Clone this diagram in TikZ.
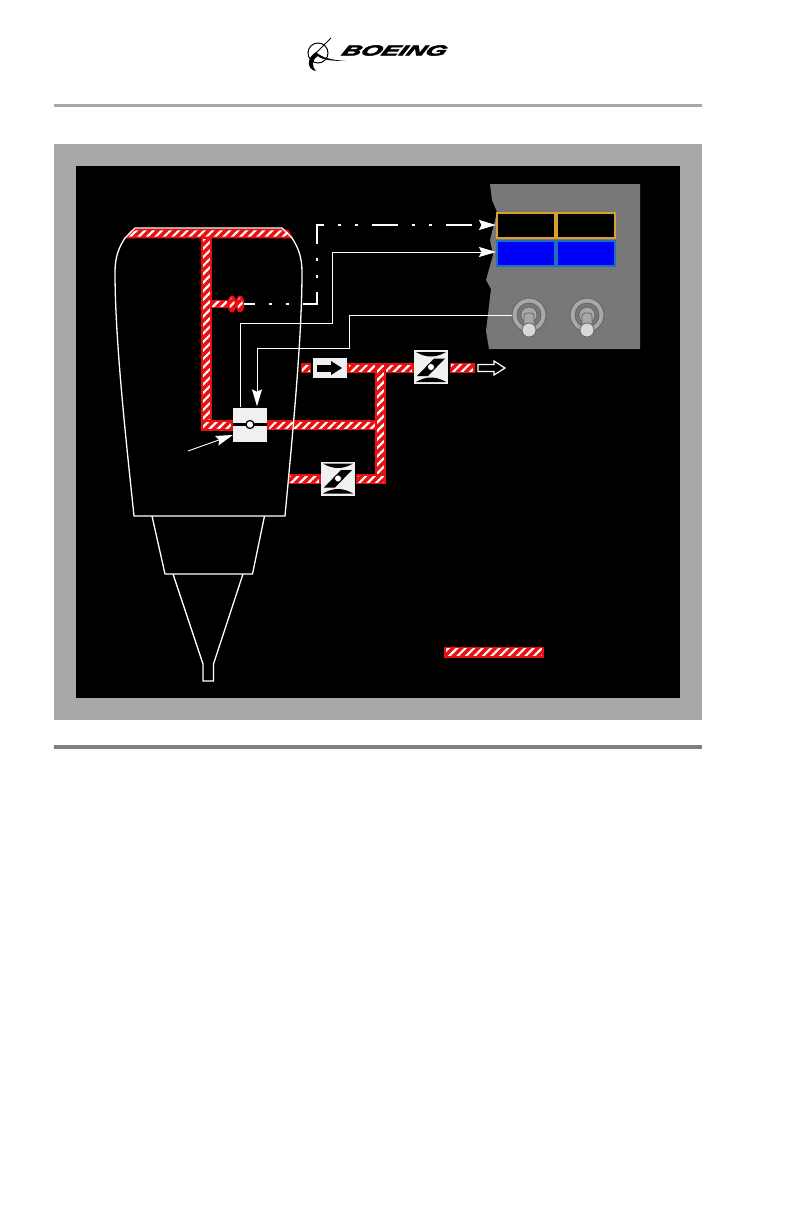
\documentclass[tikz,border=0pt]{standalone}
\usepackage{fontspec}
\setmainfont{Liberation Sans}
\newfontfamily\logofont[BoldItalicFeatures={FakeBold=3.5}]{Liberation Sans}
\usepackage{tikz}
\usetikzlibrary{arrows.meta,positioning,calc,patterns.meta}
\definecolor{framegray}{HTML}{A8A8A8}
\definecolor{panelgray}{HTML}{787878}
\definecolor{lampamber}{HTML}{D9A030}
\definecolor{lampblue}{HTML}{2070C0}
\definecolor{boxwhite}{HTML}{F0F0F0}
\definecolor{ductred}{HTML}{E81010}

\begin{document}
\begin{tikzpicture}[
  x=1pt, y=-1pt,
  duct/.style={draw=ductred, line width=1.7pt,
    preaction={fill=ductred},
    preaction={pattern={Lines[angle=45,distance=6pt,line width=2.2pt]}, pattern color=white}},
  outline/.style={draw=white, line width=1.3pt, line join=miter},
  signal/.style={draw=white, line width=.9pt},
  arrow/.style={-{Stealth[length=17pt,width=10pt,inset=2.5pt]}},
  unitbox/.style={fill=boxwhite, inner sep=0pt, minimum width=34pt, minimum height=34pt},
  lamp/.style={inner sep=0pt, minimum width=58pt, minimum height=25pt, line width=2pt},
  fanblade/.pic={
    \fill[black] (-15,-15) .. controls (-5,-9) and (5,-9) .. (15,-15) -- cycle;
    \fill[black] (-15,15) .. controls (-5,9) and (5,9) .. (15,15) -- cycle;
    \fill[black] (14,-8.5) -- (3,-8.5) -- (-14,9) -- (-3,9) -- cycle;
    \draw[black, fill=white, line width=.6pt] (0,0) circle (3.5pt);
  },
  toggle/.pic={
    \draw[black!60, fill=framegray, line width=1pt] (0,-1) circle (17pt);
    \draw[black!60, fill=panelgray, line width=.8pt] (0,-1) circle (12pt);
    \draw[black!60, fill=framegray, line width=.8pt] (0,-1) circle (8pt);
    \draw[black!60, fill=framegray, line width=.8pt, rounded corners=3pt] (-5,12) -- (-5,-3) -- (5,-3) -- (5,12);
    \draw[black!60, fill=boxwhite!90!black, line width=.8pt] (0,14) circle (7pt);
  }
]
\useasboundingbox (0,0) rectangle (792,1224);
\fill[white] (0,0) rectangle (792,1224);

% logo
\draw[black, line width=1pt] (318,53) circle (10pt);
\draw[black, line width=.8pt] (331,38) -- (316,53);
\fill[black] (316,52) .. controls (306,58) and (307,70) .. (316,71) .. controls (312,67) and (311,60) .. (318,56) .. controls (322,60) and (332,61) .. (346,61) .. controls (332,60) and (322,58) .. (316,52);
\node[font=\logofont\bfseries\itshape, scale=1.45, xscale=1.82, xslant=.25, inner sep=0pt] (logotext) at (395,50.5) {BOEING};

% frame
\draw[framegray, line width=3pt] (54,105) -- (702,105);
\fill[framegray] (54,144) rectangle (702,720);
\fill[black] (76,166) rectangle (680,698);
\draw[black!50, line width=3.5pt] (54,747) -- (702,747);

% panel
\fill[panelgray] (490,184) -- (640,184) -- (640,349) -- (489,349) -- (486,331) -- (491,289) -- (486,280) -- (493,255) -- (490,240) -- (497,212) -- (492,200) -- cycle;
\node[lamp, draw=lampamber, fill=black, anchor=south east] (lampA) at (556,239) {};
\node[lamp, draw=lampamber, fill=black, anchor=south west] (lampB) at (556,239) {};
\node[lamp, draw=lampblue, fill=blue, anchor=north east] (lampC) at (556,240) {};
\node[lamp, draw=lampblue, fill=blue, anchor=north west] (lampD) at (556,240) {};
\pic at (529,316) {toggle};
\pic at (587,316) {toggle};
\coordinate (switchA) at (512,315);

% ducts
\path[duct] (127,237.5) -- (131,231) -- (136,229.5) -- (282,229.5) -- (288,231) -- (292,237.5) -- cycle;
\path[duct] (202,238) rectangle (211,430);
\path[duct] (202,421) rectangle (232,430);
\path[duct] (211,300.5) rectangle (228,307.5);
\path[duct] (232,304) ellipse [x radius=3.5pt, y radius=7.5pt];
\path[duct] (240,304) ellipse [x radius=3.5pt, y radius=7.5pt];
\path[duct] (268,421) rectangle (385.5,429.5);
\path[duct] (301.5,364) rectangle (310.5,372.5);
\path[duct] (348,364) rectangle (413,372.5);
\path[duct] (376,364) rectangle (385,483.5);
\path[duct] (289,475) rectangle (320,483.5);
\path[duct] (357,475) rectangle (385,483.5);
\path[duct] (450.5,363.5) rectangle (474,372.5);
\path[duct] (445,647.5) rectangle (543,657);

% engine
\draw[outline] (125,238) -- (135,228) -- (282,228) -- (292,238) .. controls (298,247) and (302,257) .. (302,272) .. controls (302,340) and (292,440) .. (285,516) -- (134,516) .. controls (126,440) and (115,340) .. (115,272) .. controls (115,257) and (119,247) .. (125,238);
\draw[outline] (152,516) -- (165,574) -- (252.5,574) -- (264.5,516);
\draw[outline] (173,574) -- (203,664) -- (203,681) -- (213.5,681) -- (213.5,664) -- (243,574);

% units
\node[unitbox] (valve) at (250,424.5) {};
\draw[black, line width=2.6pt] (valve.west) -- (valve.east);
\draw[black, fill=white, line width=1.3pt] (valve.center) circle (4pt);
\node[unitbox, minimum height=20pt] (check) at (330,368) {};
\draw[black, line width=7pt] (317,368) -- (332,368);
\fill[black] (331,361) -- (342,368) -- (331,375) -- cycle;
\node[unitbox] (fanA) at (431,367) {};
\pic at (fanA) {fanblade};
\node[unitbox] (fanB) at (338,478.5) {};
\pic at (fanB) {fanblade};
\coordinate (vent) at (478,368);
\draw[white, line width=1.2pt, fill=black] (vent) ++(0,-3.5) -- ++(16,0) -- ++(0,-3.5) -- ++(11,7) -- ++(-11,7) -- ++(0,-3.5) -- ++(-16,0) -- cycle;

% connectors
\coordinate (pointer) at (188,451);
\draw[signal, arrow] (pointer) -- (valve.west |- 0,435);
\draw[signal, line width=1.8pt, arrow, dash pattern=on 26pt off 14pt on 3pt off 14pt on 3pt off 14pt, dash phase=15pt] (244,304) -- (317,304) -- (317,225) -- (lampA.west |- 0,225);
\draw[signal, arrow] ($(valve.north)+(-10,0)$) |- (332,323) |- (lampC.west |- 0,252);
\draw[signal, arrow] (switchA) -| (349,348) -| ($(valve.north)+(7,-1)$);
\end{tikzpicture}
\end{document}
